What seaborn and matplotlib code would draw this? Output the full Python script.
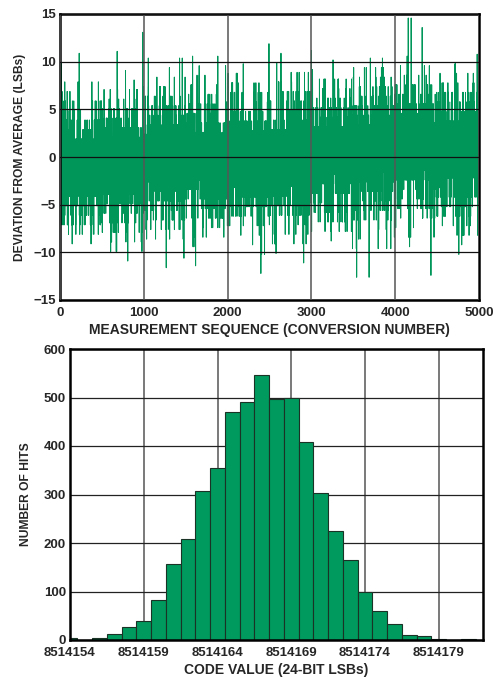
import numpy as np
import pandas as pd
import matplotlib
matplotlib.use("Agg")
import matplotlib.pyplot as plt
import seaborn as sns

# histogram (hits per code)
codes = np.arange(8514154, 8514182)
hits = [4, 1, 4, 12, 27, 40, 83, 156, 208, 307, 355, 471, 491, 547,
        496, 500, 408, 303, 225, 165, 99, 59, 34, 11, 8, 3, 1, 3]

# slow drift of the band centre in the upper panel, one value per 500 conversions
drift = [-1.0, -0.8, -0.5, -0.3, -0.1, 0.0, 0.3, 0.5, 0.7, 0.9]

# upper panel: the same samples as deviation from average.
# the sample order can't be read off the plot, so spread them with a fixed (n^2 * golden ratio) order
samples = np.repeat(codes, hits).astype(float)
samples = samples - samples.mean()
n = len(samples)
idx = np.arange(n, dtype=float)
order = np.argsort(np.argsort((idx * idx * 0.6180339887498949) % 1.0))
dev = np.sort(samples)[order]
block = np.minimum(np.arange(n) * len(drift) // 5000, len(drift) - 1)
dev = dev + np.array(drift)[block] - np.mean(drift)
seq = pd.DataFrame({"conversion": np.arange(n) * 5000 / n, "deviation": dev})
hist = pd.DataFrame({"code": codes, "hits": hits})

green = "#00965A"
sns.set_style("white")
plt.rcParams["font.family"] = ["Liberation Sans", "DejaVu Sans"]
plt.rcParams["font.weight"] = "bold"

fig = plt.figure(figsize=(4.93, 6.77), dpi=100)
ax1 = fig.add_axes([60 / 493, 1 - 300 / 677, 419 / 493, 286 / 677])
ax2 = fig.add_axes([70 / 493, 1 - 640 / 677, 413 / 493, 291 / 677])

sns.lineplot(data=seq, x="conversion", y="deviation", ax=ax1, color=green,
             linewidth=0.7, estimator=None, sort=False)
ax1.set_xlim(0, 5000)
ax1.set_ylim(-15, 15)
ax1.set_xticks(range(0, 5001, 1000))
ax1.set_yticks(range(-15, 16, 5))
ax1.set_yticklabels(["\u221215", "\u221210", "\u22125", "0", "5", "10", "15"])
ax1.set_xlabel("MEASUREMENT SEQUENCE (CONVERSION NUMBER)", fontsize=10, fontweight="bold", labelpad=3)
ax1.set_ylabel("DEVIATION FROM AVERAGE (LSBs)", fontsize=8.7, fontweight="bold", labelpad=5)
ax1.set_axisbelow(False)
ax1.grid(axis="y", color="#111111", linewidth=0.9)
ax1.grid(axis="x", color="#555555", linewidth=1.1)

sns.histplot(data=hist, x="code", weights="hits", discrete=True, ax=ax2,
             color="#009A5E", alpha=1, edgecolor="#1b3326", linewidth=0.8)
ax2.set_xlim(8514154, 8514182)
ax2.set_ylim(0, 600)
ax2.set_xticks(range(8514154, 8514180, 5))
ax2.set_xticklabels([str(c) for c in range(8514154, 8514180, 5)])
ax2.set_yticks(range(0, 601, 100))
ax2.set_xlabel("CODE VALUE (24-BIT LSBs)", fontsize=10, fontweight="bold", labelpad=3)
ax2.set_ylabel("NUMBER OF HITS", fontsize=8.7, fontweight="bold", labelpad=8)
ax2.set_axisbelow(True)
ax2.grid(axis="y", color="#222222", linewidth=0.9)
ax2.grid(axis="x", color="#555555", linewidth=1.1)

for ax in (ax1, ax2):
    ax.tick_params(axis="both", labelsize=9.5, length=0)
    ax.tick_params(axis="x", pad=5)
    ax.tick_params(axis="y", pad=3)
    for lab in ax.get_xticklabels() + ax.get_yticklabels():
        lab.set_fontweight("bold")
    for sp in ax.spines.values():
        sp.set_visible(True)
        sp.set_color("black")
        sp.set_linewidth(1.8)

fig.savefig("out.png", dpi=100)
